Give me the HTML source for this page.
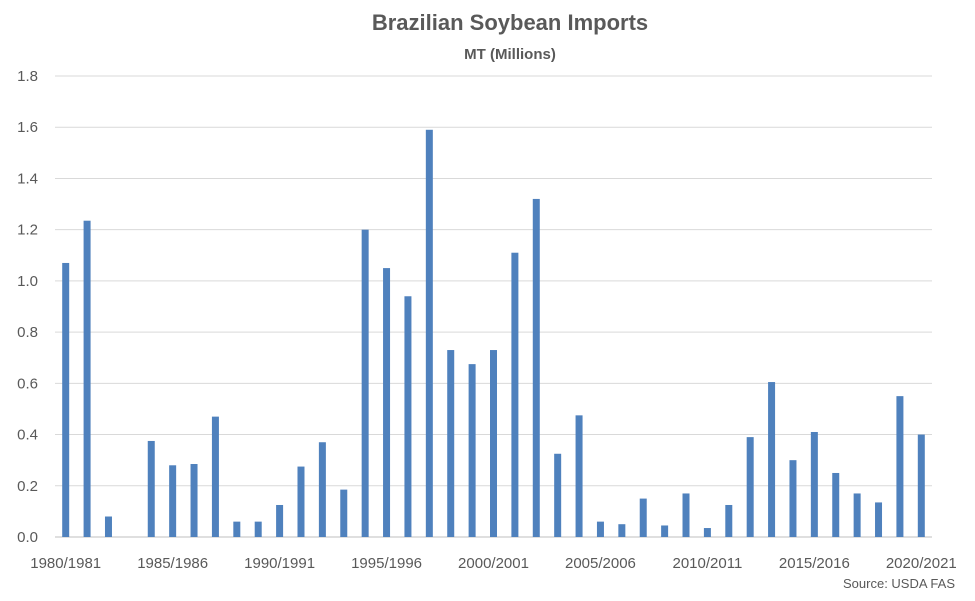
<!DOCTYPE html>
<html><head><meta charset="utf-8"><style>
body{margin:0;background:#fff;}
svg{display:block;font-family:"Liberation Sans",Calibri,sans-serif;}
</style></head><body>
<svg id="chart" width="975" height="601" viewBox="0 0 975 601">
<text x="510" y="30" text-anchor="middle" font-size="22" font-weight="bold" fill="#595959">Brazilian Soybean Imports</text>
<text x="510" y="59" text-anchor="middle" font-size="15" font-weight="bold" fill="#595959">MT (Millions)</text>
<g id="grid"></g><g id="bars"></g><g id="xlabels"></g>
<text x="955" y="588" text-anchor="end" font-size="13" fill="#595959">Source: USDA FAS</text>
</svg>
<script>
const startYears=[];for(let y=1980;y<=2020;y++)startYears.push(y);
const categories=startYears.map(y=>y+'/'+(y+1));
const values=[1.07,1.235,0.08,0,0.375,0.28,0.285,0.47,0.06,0.06,0.125,0.275,0.37,0.185,1.20,1.05,0.94,1.59,0.73,0.675,0.73,0.11+1.0,1.32,0.325,0.475,0.06,0.05,0.15,0.045,0.17,0.035,0.125,0.39,0.605,0.30,0.41,0.25,0.17,0.135,0.55,0.40];
const yTicks=[0,0.2,0.4,0.6,0.8,1.0,1.2,1.4,1.6,1.8];
const NS='http://www.w3.org/2000/svg';
const L=55,R=932,T=76,B=537,ymax=1.8;
const band=(R-L)/categories.length;
const xc=i=>L+band*(i+0.5);
const yv=v=>B-(v/ymax)*(B-T);
const grid=document.getElementById('grid');
yTicks.forEach(t=>{
 const ln=document.createElementNS(NS,'line');
 
 
 ln.setAttribute('x1',L);ln.setAttribute('x2',R);
 ln.setAttribute('y1',yv(t));ln.setAttribute('y2',yv(t));
 ln.setAttribute('stroke',t===0?'#bfbfbf':'#d9d9d9');ln.setAttribute('stroke-width','1');
 grid.appendChild(ln);
 const tx=document.createElementNS(NS,'text');
 
 
 tx.setAttribute('x',38);tx.setAttribute('y',yv(t)+5);
 tx.setAttribute('text-anchor','end');tx.setAttribute('font-size','15');tx.setAttribute('fill','#595959');
 tx.textContent=t.toFixed(1);grid.appendChild(tx);
});
const bars=document.getElementById('bars');
values.forEach((v,i)=>{
 const r=document.createElementNS(NS,'rect');
 
 
 r.setAttribute('x',xc(i)-3.5);r.setAttribute('width',7);
 r.setAttribute('y',yv(v));r.setAttribute('height',B-yv(v));
 r.setAttribute('fill','#4f81bd');
 bars.appendChild(r);
});
const xl=document.getElementById('xlabels');
categories.forEach((c,i)=>{
 if(i%5!==0)return;
 const tx=document.createElementNS(NS,'text');
 
 
 tx.setAttribute('x',xc(i));tx.setAttribute('y',568);
 tx.setAttribute('text-anchor','middle');tx.setAttribute('font-size','15');tx.setAttribute('fill','#595959');
 tx.textContent=c;xl.appendChild(tx);
});
</script>
</body></html>
